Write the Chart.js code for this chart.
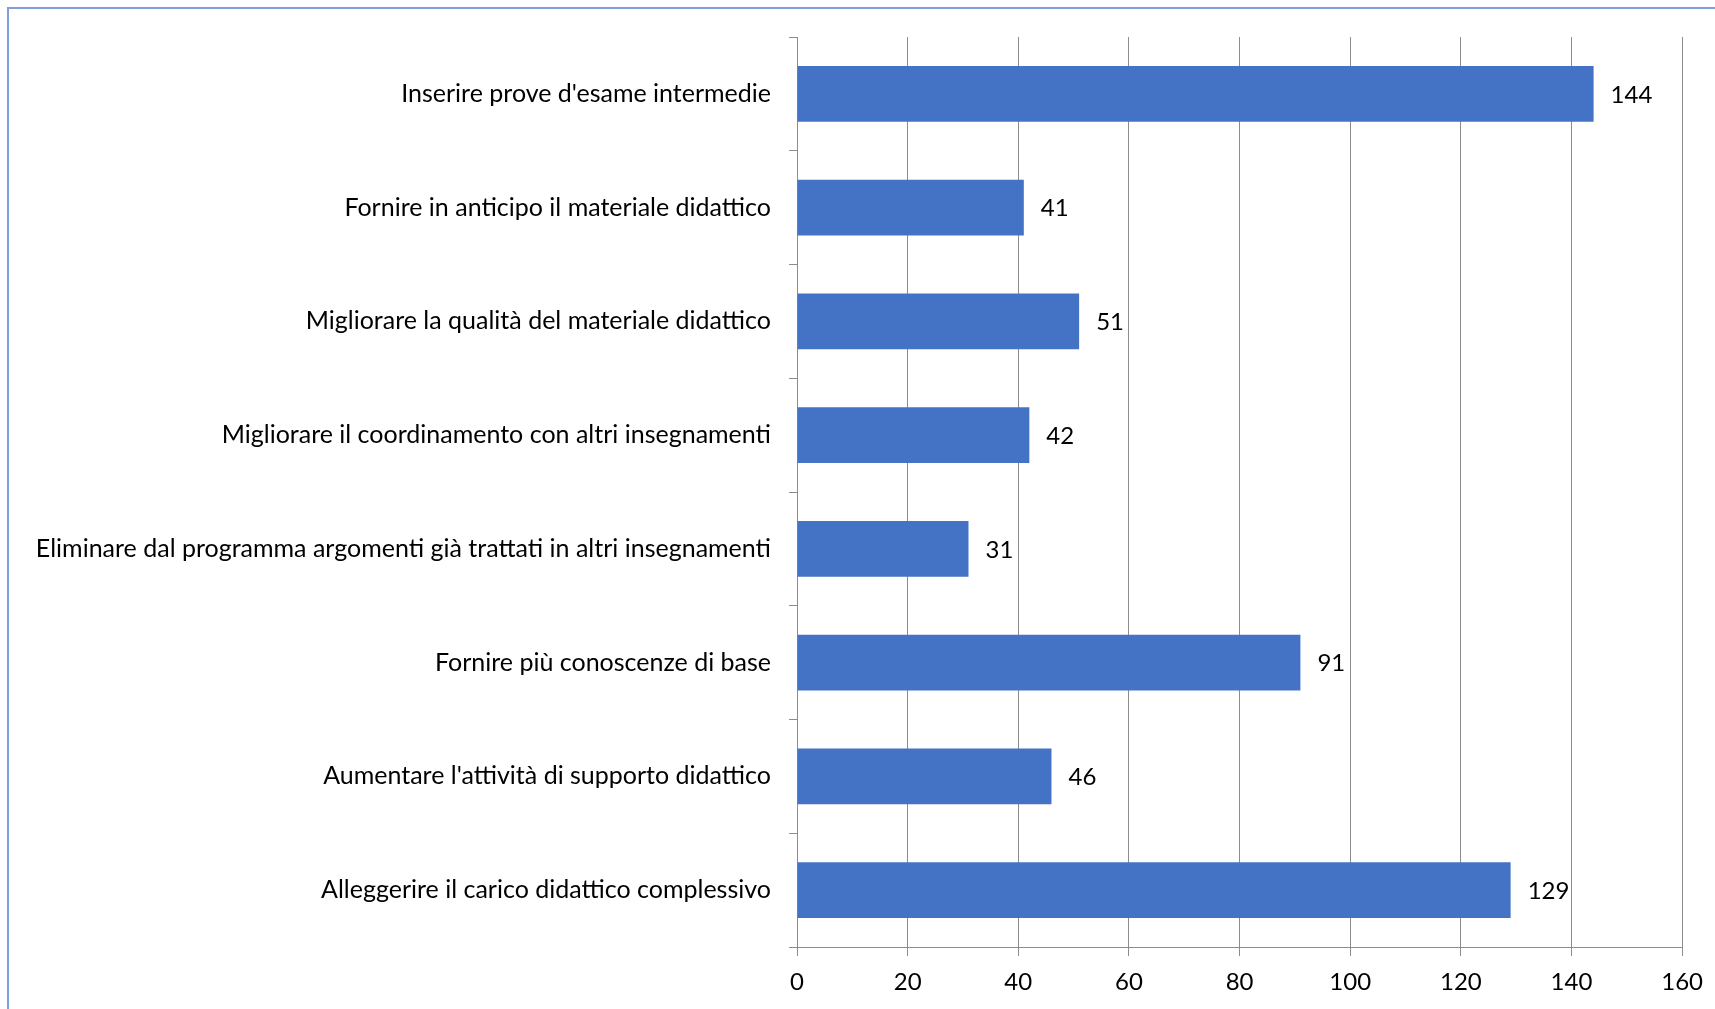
<!DOCTYPE html>
<html>
<head>
<meta charset="utf-8">
<script src="https://cdn.jsdelivr.net/npm/chart.js@4/dist/chart.umd.min.js"></script>
<style>
  html, body { margin: 0; padding: 0; background: #ffffff; overflow: hidden; }
  #frame {
    position: absolute; left: 7px; top: 7px; width: 1760px; height: 1060px;
    border: 2px solid #7f9edc; box-sizing: border-box;
  }
  #wrap { position: absolute; left: 0; top: 0; width: 1715px; height: 1009px; }
</style>
</head>
<body>
<div id="frame"></div>
<div id="wrap"><canvas id="chart"></canvas></div>
<script>
const categories = [
  "Inserire prove d'esame intermedie",
  "Fornire in anticipo il materiale didattico",
  "Migliorare la qualità del materiale didattico",
  "Migliorare il coordinamento con altri insegnamenti",
  "Eliminare dal programma argomenti già trattati in altri insegnamenti",
  "Fornire più conoscenze di base",
  "Aumentare l'attività di supporto didattico",
  "Alleggerire il carico didattico complessivo"
];
const values = [144, 41, 51, 42, 31, 91, 46, 129];
const axisMin = 0;
const axisMax = 160;
const axisStep = 20;

const FONT = "Lato, 'Open Sans', sans-serif";
const GRID = "#8c8c8c";

// numbers at the end of each bar
const valueLabels = {
  id: "valueLabels",
  afterDatasetsDraw(chart) {
    const ctx = chart.ctx;
    const meta = chart.getDatasetMeta(0);
    ctx.save();
    ctx.font = "24px " + FONT;
    ctx.fillStyle = "#000000";
    ctx.textAlign = "left";
    ctx.textBaseline = "middle";
    meta.data.forEach(function(bar, i) {
      ctx.fillText(String(values[i]), bar.x + 17, bar.y + 1);
    });
    ctx.restore();
  }
};

new Chart(document.getElementById("chart").getContext("2d"), {
  type: "bar",
  data: {
    labels: categories,
    datasets: [{
      data: values,
      backgroundColor: "#4472c4",
      borderWidth: 0,
      barPercentage: 0.49,
      categoryPercentage: 1
    }]
  },
  options: {
    indexAxis: "y",
    responsive: true,
    maintainAspectRatio: false,
    animation: false,
    layout: { padding: { top: 37, right: 32, bottom: 0, left: 0 } },
    plugins: {
      legend: { display: false },
      tooltip: { enabled: false }
    },
    scales: {
      x: {
        min: axisMin,
        max: axisMax,
        ticks: {
          stepSize: axisStep,
          color: "#000000",
          font: { family: FONT, size: 24 },
          padding: 12
        },
        grid: { color: GRID, lineWidth: 1, tickLength: 9 },
        border: { color: GRID, width: 1 },
        afterFit: function(scale) { scale.height = 62; }
      },
      y: {
        ticks: {
          color: "#000000",
          font: { family: FONT, size: 25 },
          padding: 18,
          autoSkip: false
        },
        grid: { drawOnChartArea: false, color: GRID, tickLength: 8, offset: true },
        border: { color: GRID, width: 1 },
        afterFit: function(scale) { scale.width = 797; }
      }
    }
  },
  plugins: [valueLabels]
});
</script>
</body>
</html>
